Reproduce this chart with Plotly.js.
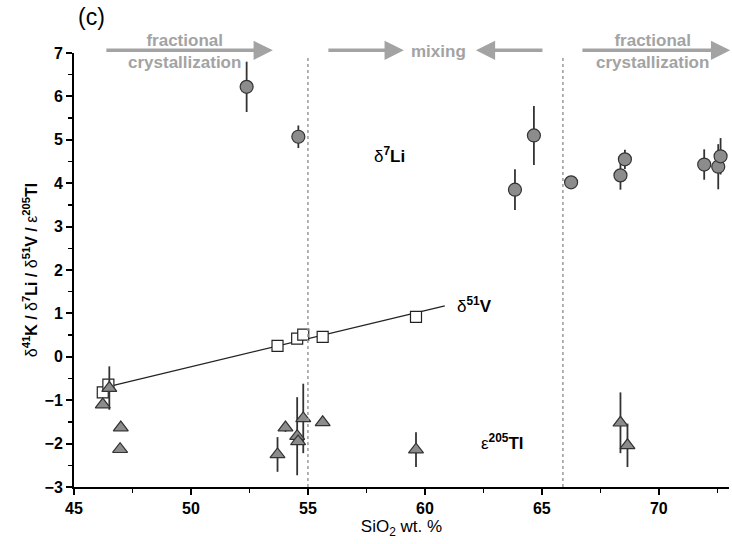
<!DOCTYPE html>
<html>
<head>
<meta charset="utf-8">
<script src="https://cdn.plot.ly/plotly-3.0.1.min.js"></script>
<style>html,body{margin:0;padding:0;background:#fff;}#chart{width:732px;height:544px;}</style>
</head>
<body>
<div id="chart"></div>
<script>
// δ7Li (circles)
const liSiO2 = [52.38, 54.59, 63.85, 64.66, 66.25, 68.36, 68.55, 71.94, 72.54, 72.64];
const liVal  = [6.22, 5.07, 3.85, 5.10, 4.02, 4.18, 4.55, 4.43, 4.38, 4.62];
const liErr  = [0.58, 0.26, 0.47, 0.68, 0, 0.33, 0.22, 0.35, 0.52, 0.42];
// δ51V (squares)
const vSiO2 = [46.23, 46.47, 53.70, 54.54, 54.80, 55.63, 59.62];
const vVal  = [-0.82, -0.64, 0.25, 0.42, 0.51, 0.46, 0.92];
// ε205Tl (triangles)
const tlSiO2 = [46.23, 46.51, 47.00, 46.97, 53.70, 54.04, 54.54, 54.58, 54.80, 55.63, 59.62, 68.36, 68.66];
const tlVal  = [-1.10, -0.72, -1.63, -2.13, -2.25, -1.63, -1.83, -1.95, -1.42, -1.51, -2.14, -1.52, -2.04];
const tlErr  = [0, 0.5, 0, 0, 0.4, 0.1, 0.9, 0, 0.8, 0, 0.4, 0.7, 0.5];
// region boundaries (SiO2 wt.%)
const boundaries = [55.0, 65.9];
// fit line extent
const fitRange = [46.47, 60.85];
// process arrows [from, to] in SiO2 wt.%
const arrowSpans = [[46.32, 53.5], [55.81, 59.1], [65.09, 62.18], [66.67, 73.05]];
const processLabels = [
  {x: 49.74, text: 'fractional<br>crystallization'},
  {x: 60.6,  text: 'mixing'},
  {x: 69.74, text: 'fractional<br>crystallization'}
];

// least squares fit of V vs SiO2
const n = vSiO2.length;
const mx = vSiO2.reduce((a,b)=>a+b,0)/n, my = vVal.reduce((a,b)=>a+b,0)/n;
let sxy = 0, sxx = 0;
for (let i=0;i<n;i++){ sxy += (vSiO2[i]-mx)*(vVal[i]-my); sxx += (vSiO2[i]-mx)**2; }
const slope = sxy/sxx, icpt = my - slope*mx;

const FONT = 'Liberation Sans, Arial, Helvetica, sans-serif';
const GREY = '#a3a3a3';
const XR = [45, 73];
const M = {l:74, r:3, t:53, b:57};
const W = 732, H = 544;
const plotW = W - M.l - M.r, plotH = H - M.t - M.b;
const toPaperX = v => (v - XR[0])/(XR[1]-XR[0]);
const pxPerUnit = plotW/(XR[1]-XR[0]);
const topY = 1 + 2.7/plotH;   // arrow row just above the frame
const textY = 1 + 1.2/plotH;

const traces = [
  {x: fitRange, y: fitRange.map(v=>icpt+slope*v), mode:'lines', line:{color:'#222', width:1.3}, hoverinfo:'skip', cliponaxis:false},
  {x: vSiO2, y: vVal, mode:'markers', marker:{symbol:'square', size:11, color:'#fff', line:{color:'#222', width:1.2}}, cliponaxis:false},
  {x: tlSiO2, y: tlVal, mode:'markers', marker:{symbol:'triangle-up', size:13, color:'#8c8c8c', line:{color:'#333', width:1.2}},
   error_y:{type:'data', array: tlErr, visible:true, color:'#333', thickness:1.8, width:0}, cliponaxis:false},
  {x: liSiO2, y: liVal, mode:'markers', marker:{symbol:'circle', size:13, color:'#8c8c8c', line:{color:'#333', width:1.2}},
   error_y:{type:'data', array: liErr, visible:true, color:'#333', thickness:1.8, width:0}, cliponaxis:false}
];

function label(x, y, txt){
  return {x:x, y:y, xref:'x', yref:'y', text:txt, showarrow:false, font:{family:FONT, size:17, color:'#000'}};
}

const annotations = [];
arrowSpans.forEach(([from, to]) => {
  annotations.push({x: toPaperX(to), y: topY, xref:'paper', yref:'paper',
    ax: (from - to)*pxPerUnit, ay: 0, axref:'pixel', ayref:'pixel',
    showarrow:true, arrowhead:2, arrowsize:1.1, arrowwidth:3.5, arrowcolor:GREY, text:''});
});
processLabels.forEach(p => {
  annotations.push({x: toPaperX(p.x), y: textY, xref:'paper', yref:'paper', xanchor:'center', yanchor:'middle',
    text:'<b>'+p.text+'</b>', showarrow:false, font:{family:FONT, size:17, color:GREY}});
});
annotations.push(label(58.5, 4.65, 'δ<sup><b>7</b></sup><b>Li</b>'));
annotations.push(label(62.1, 1.19, 'δ<sup><b>51</b></sup><b>V</b>'));
annotations.push(label(63.3, -1.96, 'ε<sup><b>205</b></sup><b>Tl</b>'));
annotations.push({x:(76-M.l)/plotW, y:1 + (M.t-17)/plotH, xref:'paper', yref:'paper', text:'(c)', showarrow:false,
  xanchor:'left', yanchor:'middle', font:{family:FONT, size:23, color:'#000'}});

const shapes = boundaries.map(b => ({type:'line', xref:'x', yref:'y', x0:b, x1:b, y0:-3, y1:6.92,
  line:{color:'#9a9a9a', width:1.5, dash:'dot'}}));

const layout = {
  width:W, height:H,
  margin:M,
  paper_bgcolor:'#fff', plot_bgcolor:'#fff',
  showlegend:false,
  font:{family:FONT, color:'#000'},
  xaxis:{range:XR, tick0:45, dtick:5, ticks:'outside', ticklen:6, tickwidth:2, tickcolor:'#000',
    showline:true, linewidth:2, linecolor:'#000', showgrid:false, zeroline:false,
    tickfont:{family:FONT, size:16, weight:'bold', color:'#000'},
    minor:{dtick:2.5, tick0:45, ticks:'outside', ticklen:4, tickwidth:1.5, tickcolor:'#000', showgrid:false},
    title:{text:'SiO<sub>2</sub> wt. %', font:{family:FONT, size:17, color:'#000'}, standoff:4}},
  yaxis:{range:[-3,7], tick0:-3, dtick:1, ticks:'outside', ticklen:6, tickwidth:2, tickcolor:'#000',
    showline:true, linewidth:2, linecolor:'#000', showgrid:false, zeroline:false,
    tickfont:{family:FONT, size:16, weight:'bold', color:'#000'},
    minor:{dtick:0.5, tick0:-3, ticks:'outside', ticklen:4, tickwidth:1.5, tickcolor:'#000', showgrid:false},
    title:{text:'δ<sup><b>41</b></sup><b>K / </b>δ<sup><b>7</b></sup><b>Li / </b>δ<sup><b>51</b></sup><b>V / </b>ε<sup><b>205</b></sup><b>Tl</b>',
      font:{family:FONT, size:16, color:'#000'}, standoff:3}},
  annotations: annotations,
  shapes: shapes
};

Plotly.newPlot('chart', traces, layout, {displayModeBar:false, staticPlot:true});
</script>
</body>
</html>
